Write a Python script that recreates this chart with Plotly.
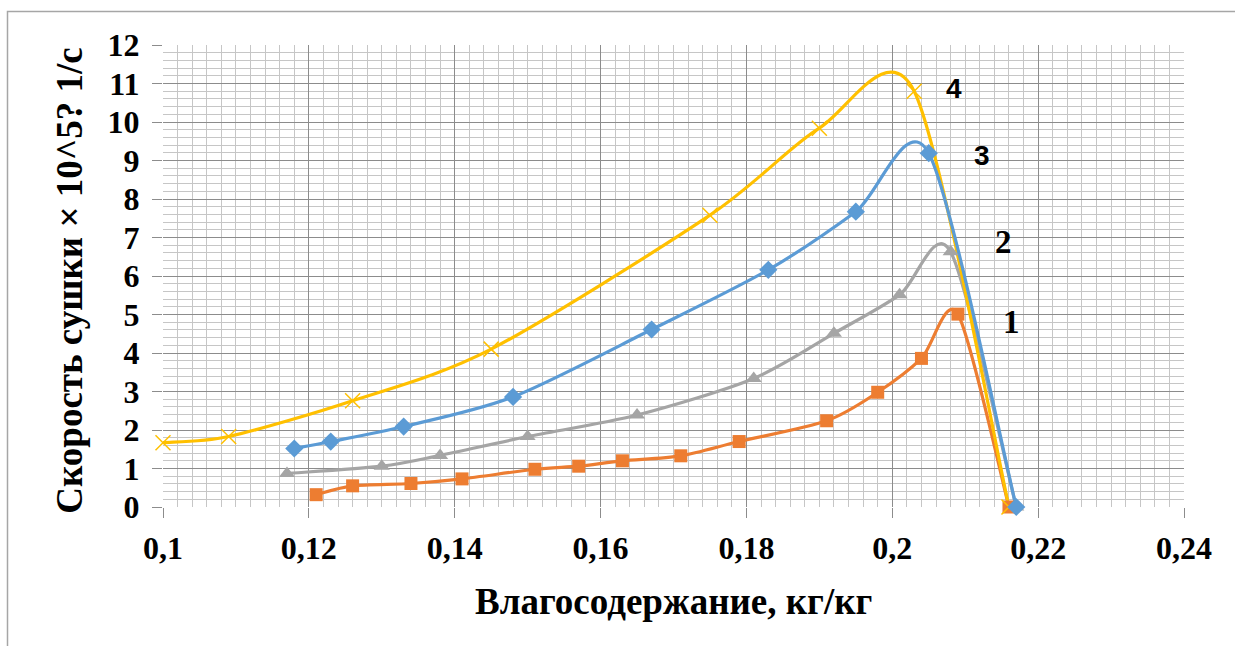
import plotly.graph_objects as go

# Moisture content (kg/kg) and drying rate (x10^5 1/s) for four regimes
x1 = [0.121, 0.126, 0.134, 0.141, 0.151, 0.157, 0.163, 0.171, 0.179, 0.191, 0.198, 0.204, 0.209, 0.216]
y1 = [0.32, 0.55, 0.61, 0.73, 0.98, 1.06, 1.20, 1.33, 1.70, 2.24, 2.98, 3.86, 5.01, 0.0]

x2 = [0.117, 0.130, 0.138, 0.150, 0.165, 0.181, 0.192, 0.201, 0.208, 0.217]
y2 = [0.87, 1.06, 1.34, 1.83, 2.39, 3.34, 4.51, 5.51, 6.63, 0.0]

x3 = [0.118, 0.123, 0.133, 0.148, 0.167, 0.183, 0.195, 0.205, 0.217]
y3 = [1.52, 1.70, 2.09, 2.86, 4.61, 6.16, 7.67, 9.19, 0.0]

x4 = [0.100, 0.109, 0.126, 0.145, 0.175, 0.190, 0.203, 0.216]
y4 = [1.67, 1.83, 2.76, 4.10, 7.58, 9.84, 10.80, 0.0]

curve_labels = ["1", "2", "3", "4"]
label_x = [0.2164, 0.2153, 0.2123, 0.2085]
label_y = [4.8, 6.88, 9.14, 10.88]

x_ticks = [0.10, 0.12, 0.14, 0.16, 0.18, 0.20, 0.22, 0.24]
x_ticktext = ["0,1", "0,12", "0,14", "0,16", "0,18", "0,2", "0,22", "0,24"]
y_ticks = list(range(0, 13))

ORANGE = "#ED7D31"
GRAY = "#A5A5A5"
BLUE = "#5B9BD5"
YELLOW = "#FFC000"

SERIF = "Liberation Serif, Times New Roman, serif"
SANS = "Liberation Sans, Arial, sans-serif"

TENSION = 0.14  # length of the Bezier handles relative to the neighbour chord


def smooth_path(xs, ys, k=TENSION):
    """Cardinal Bezier path through the points, in data units."""
    pts = list(zip(xs, ys))
    n = len(pts)
    d = "M %r,%r" % pts[0]
    for i in range(n - 1):
        p0 = pts[i - 1] if i > 0 else pts[i]
        p1 = pts[i]
        p2 = pts[i + 1]
        p3 = pts[i + 2] if i + 2 < n else pts[i + 1]
        c1 = (p1[0] + (p2[0] - p0[0]) * k, p1[1] + (p2[1] - p0[1]) * k)
        c2 = (p2[0] - (p3[0] - p1[0]) * k, p2[1] - (p3[1] - p1[1]) * k)
        d += " C %r,%r %r,%r %r,%r" % (c1 + c2 + p2)
    return d


fig = go.Figure()

series = [
    (x2, y2, GRAY, dict(symbol="triangle-up", size=14, color=GRAY)),
    (x1, y1, ORANGE, dict(symbol="square", size=13, color=ORANGE)),
    (x4, y4, YELLOW, dict(symbol="x-thin", size=15, color=YELLOW,
                          line=dict(color=YELLOW, width=1.5))),
    (x3, y3, BLUE, dict(symbol="diamond", size=14, color=BLUE)),
]

for xs, ys, color, marker in series:
    fig.add_shape(type="path", xref="x", yref="y", path=smooth_path(xs, ys),
                  line=dict(color=color, width=3.2), layer="between")
    fig.add_trace(go.Scatter(x=xs, y=ys, mode="markers", marker=marker,
                             cliponaxis=False))

# Curve numbers next to each peak
for t, lx, ly in zip(curve_labels, label_x, label_y):
    sans = t in ("3", "4")
    fig.add_annotation(x=lx, y=ly, text=t, showarrow=False,
                       xanchor="center", yanchor="middle",
                       font=dict(family=SANS if sans else SERIF,
                                 size=28 if sans else 33,
                                 weight="bold", color="black"))

grid_major = "#8C8C8C"
grid_minor = "#C6C6C6"
tick_font = dict(family=SERIF, size=32, weight="bold", color="black")

fig.update_xaxes(
    range=[0.1, 0.24], tickvals=x_ticks, ticktext=x_ticktext,
    showgrid=True, gridcolor=grid_major, gridwidth=1, zeroline=False,
    ticks="outside", ticklen=10, tickcolor=grid_major, tickwidth=1,
    minor=dict(tick0=0.1, dtick=0.002, showgrid=True, gridcolor=grid_minor, gridwidth=1),
    tickfont=tick_font, ticklabelstandoff=3,
)
fig.update_yaxes(
    range=[0, 12], tickvals=y_ticks,
    showgrid=True, gridcolor=grid_major, gridwidth=1, zeroline=False,
    ticks="outside", ticklen=10, tickcolor=grid_major, tickwidth=1,
    minor=dict(tick0=0, dtick=0.2, showgrid=True, gridcolor=grid_minor, gridwidth=1),
    tickfont=tick_font, ticklabelstandoff=6,
)

# Axis titles
fig.add_annotation(xref="paper", yref="paper", x=-0.091, y=0.49,
                   text="Скорость сушки × 10^5? 1/с", textangle=-90,
                   showarrow=False, xanchor="center", yanchor="middle",
                   font=dict(family=SERIF, size=37, weight="bold", color="black"))
fig.add_annotation(xref="paper", yref="paper", x=0.5, y=-0.205,
                   text="Влагосодержание, кг/кг",
                   showarrow=False, xanchor="center", yanchor="middle",
                   font=dict(family=SERIF, size=37, weight="bold", color="black"))

# Chart frame (right and bottom edges fall outside the page)
fig.add_shape(type="rect", xref="paper", yref="paper",
              x0=-0.1523, y0=-0.4, x1=1.1, y1=1.0725,
              line=dict(color="#A6A6A6", width=1.5), layer="below")

fig.update_layout(
    width=1235, height=646,
    margin=dict(l=163, r=51, t=45, b=139),
    plot_bgcolor="white", paper_bgcolor="white",
    showlegend=False,
)

fig.write_html("out.html")
